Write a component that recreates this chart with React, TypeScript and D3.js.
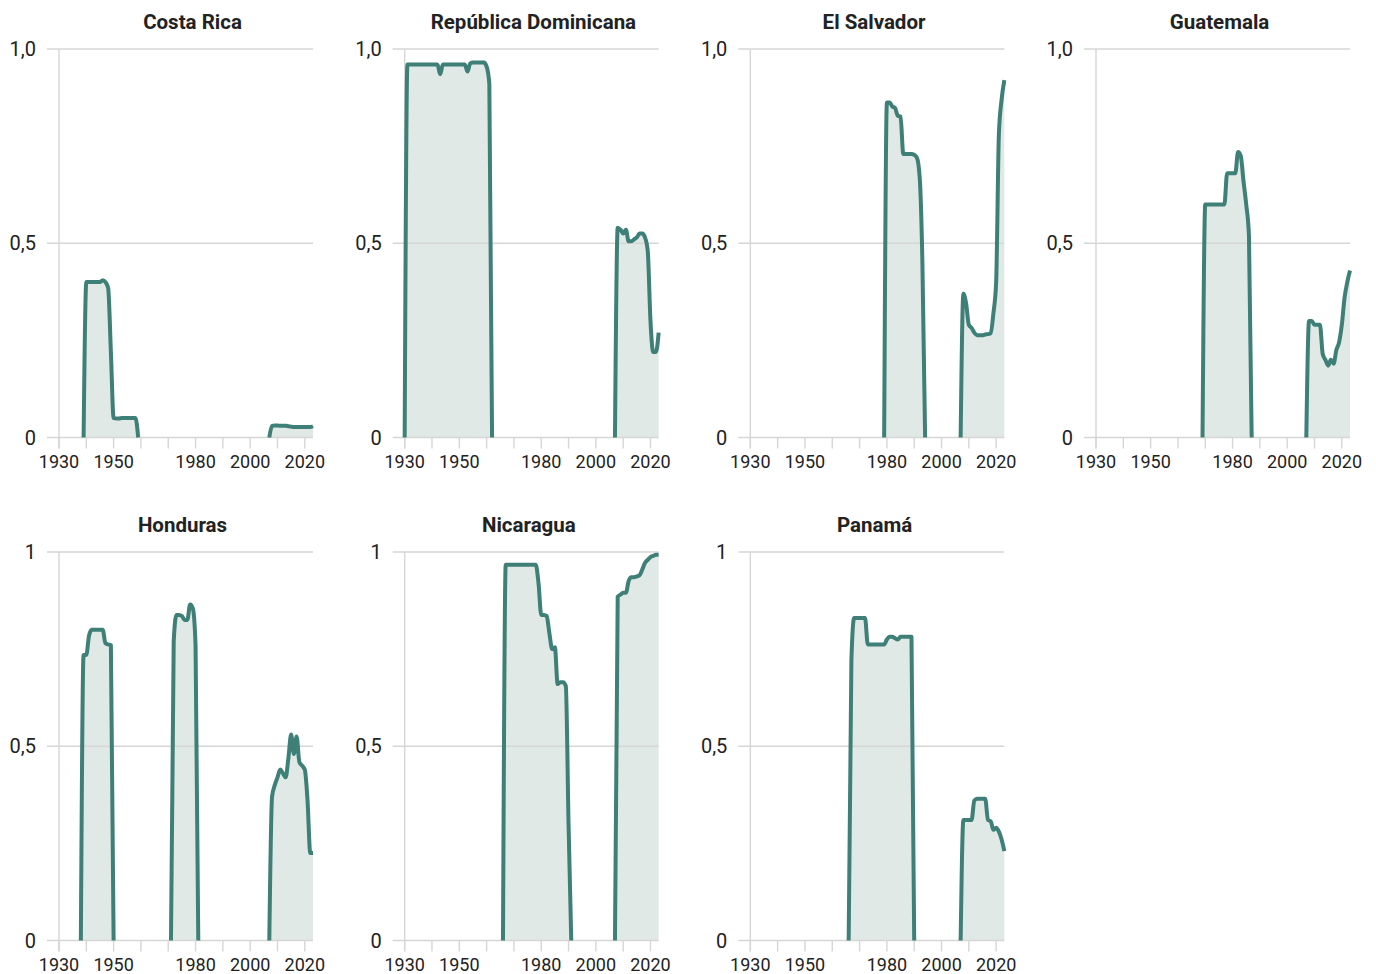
import React from 'react';
import * as d3 from 'd3';

type Pt = [number, number];

// ---- Data (year, index value), segments separated where the series is absent ----
const costaRica: Pt[][] = [
  [[1939, 0], [1940, 0.40], [1941, 0.40], [1942, 0.40], [1943, 0.40], [1944, 0.40], [1945, 0.40], [1946, 0.405], [1947, 0.40], [1948, 0.385], [1949, 0.22], [1950, 0.05], [1951, 0.049], [1952, 0.049], [1953, 0.05], [1954, 0.05], [1955, 0.05], [1956, 0.05], [1957, 0.05], [1958, 0.05], [1959, 0]],
  [[2007, 0], [2008, 0.03], [2009, 0.031], [2010, 0.031], [2011, 0.03], [2012, 0.03], [2013, 0.03], [2014, 0.029], [2015, 0.028], [2016, 0.027], [2017, 0.027], [2018, 0.027], [2019, 0.027], [2020, 0.027], [2021, 0.027], [2022, 0.027], [2023, 0.029]],
];

const republicaDominicana: Pt[][] = [
  [[1930, 0], [1931, 0.96], [1932, 0.96], [1933, 0.96], [1934, 0.96], [1935, 0.96], [1936, 0.96], [1937, 0.96], [1938, 0.96], [1939, 0.96], [1940, 0.96], [1941, 0.96], [1942, 0.96], [1943, 0.935], [1944, 0.96], [1945, 0.96], [1946, 0.96], [1947, 0.96], [1948, 0.96], [1949, 0.96], [1950, 0.96], [1951, 0.96], [1952, 0.96], [1953, 0.942], [1954, 0.963], [1955, 0.965], [1956, 0.965], [1957, 0.965], [1958, 0.965], [1959, 0.965], [1960, 0.955], [1961, 0.91], [1962, 0]],
  [[2007, 0], [2008, 0.54], [2009, 0.535], [2010, 0.525], [2011, 0.535], [2012, 0.505], [2013, 0.505], [2014, 0.51], [2015, 0.515], [2016, 0.525], [2017, 0.525], [2018, 0.515], [2019, 0.48], [2020, 0.30], [2021, 0.22], [2022, 0.22], [2023, 0.27]],
];

const elSalvador: Pt[][] = [
  [[1979, 0], [1980, 0.862], [1981, 0.862], [1982, 0.852], [1983, 0.848], [1984, 0.828], [1985, 0.826], [1986, 0.73], [1987, 0.73], [1988, 0.73], [1989, 0.73], [1990, 0.728], [1991, 0.72], [1992, 0.67], [1993, 0.45], [1994, 0]],
  [[2007, 0], [2008, 0.37], [2009, 0.345], [2010, 0.29], [2011, 0.282], [2012, 0.27], [2013, 0.263], [2014, 0.263], [2015, 0.263], [2016, 0.265], [2017, 0.266], [2018, 0.268], [2019, 0.32], [2020, 0.40], [2021, 0.78], [2022, 0.87], [2023, 0.92]],
];

const guatemala: Pt[][] = [
  [[1969, 0], [1970, 0.60], [1971, 0.60], [1972, 0.60], [1973, 0.60], [1974, 0.60], [1975, 0.60], [1976, 0.60], [1977, 0.60], [1978, 0.68], [1979, 0.68], [1980, 0.68], [1981, 0.68], [1982, 0.735], [1983, 0.725], [1984, 0.66], [1985, 0.60], [1986, 0.52], [1987, 0]],
  [[2007, 0], [2008, 0.30], [2009, 0.30], [2010, 0.29], [2011, 0.29], [2012, 0.29], [2013, 0.215], [2014, 0.20], [2015, 0.185], [2016, 0.20], [2017, 0.19], [2018, 0.225], [2019, 0.245], [2020, 0.29], [2021, 0.36], [2022, 0.40], [2023, 0.43]],
];

const honduras: Pt[][] = [
  [[1938, 0], [1939, 0.735], [1940, 0.735], [1941, 0.785], [1942, 0.80], [1943, 0.80], [1944, 0.80], [1945, 0.80], [1946, 0.80], [1947, 0.765], [1948, 0.762], [1949, 0.76], [1950, 0]],
  [[1971, 0], [1972, 0.77], [1973, 0.838], [1974, 0.838], [1975, 0.835], [1976, 0.825], [1977, 0.825], [1978, 0.865], [1979, 0.855], [1980, 0.76], [1981, 0]],
  [[2007, 0], [2008, 0.37], [2009, 0.40], [2010, 0.42], [2011, 0.44], [2012, 0.43], [2013, 0.42], [2014, 0.47], [2015, 0.53], [2016, 0.48], [2017, 0.525], [2018, 0.46], [2019, 0.45], [2020, 0.44], [2021, 0.36], [2022, 0.225], [2023, 0.225]],
];

const nicaragua: Pt[][] = [
  [[1966, 0], [1967, 0.967], [1968, 0.967], [1969, 0.967], [1970, 0.967], [1971, 0.967], [1972, 0.967], [1973, 0.967], [1974, 0.967], [1975, 0.967], [1976, 0.967], [1977, 0.967], [1978, 0.967], [1979, 0.92], [1980, 0.838], [1981, 0.838], [1982, 0.835], [1983, 0.79], [1984, 0.75], [1985, 0.755], [1986, 0.66], [1987, 0.665], [1988, 0.665], [1989, 0.655], [1990, 0.30], [1991, 0]],
  [[2007, 0], [2008, 0.885], [2009, 0.89], [2010, 0.895], [2011, 0.895], [2012, 0.925], [2013, 0.935], [2014, 0.935], [2015, 0.937], [2016, 0.94], [2017, 0.955], [2018, 0.972], [2019, 0.98], [2020, 0.987], [2021, 0.99], [2022, 0.993], [2023, 0.993]],
];

const panama: Pt[][] = [
  [[1966, 0], [1967, 0.72], [1968, 0.83], [1969, 0.83], [1970, 0.83], [1971, 0.83], [1972, 0.83], [1973, 0.762], [1974, 0.762], [1975, 0.762], [1976, 0.762], [1977, 0.762], [1978, 0.762], [1979, 0.762], [1980, 0.775], [1981, 0.782], [1982, 0.782], [1983, 0.778], [1984, 0.775], [1985, 0.782], [1986, 0.782], [1987, 0.782], [1988, 0.782], [1989, 0.782], [1990, 0]],
  [[2007, 0], [2008, 0.31], [2009, 0.31], [2010, 0.31], [2011, 0.31], [2012, 0.36], [2013, 0.365], [2014, 0.365], [2015, 0.365], [2016, 0.365], [2017, 0.31], [2018, 0.307], [2019, 0.285], [2020, 0.29], [2021, 0.28], [2022, 0.26], [2023, 0.23]],
];

const countryNames = ['Costa Rica', 'República Dominicana', 'El Salvador', 'Guatemala', 'Honduras', 'Nicaragua', 'Panamá'];
const countrySeries = [costaRica, republicaDominicana, elSalvador, guatemala, honduras, nicaragua, panama];

const xDomain: [number, number] = [1930, 2023];
const decadeTicks = [1930, 1940, 1950, 1960, 1970, 1980, 1990, 2000, 2010, 2020];
const labeledYears = [1930, 1950, 1980, 2000, 2020];
const yTickValues = [0, 0.5, 1];
const yTickLabelsTopRow = ['0', '0,5', '1,0'];
const yTickLabelsBottomRow = ['0', '0,5', '1'];

// ---- Layout / style ----
const W = 1376;
const H = 974;
const COLS = 4;
const PLOT_LEFT0 = 59;
const COL_STEP = 345.67;
const PLOT_W = 254;
const PLOT_TOP0 = 49;
const ROW_STEP = 503;
const PLOT_H = 388.5;
const TITLE_DX = [6.5, 1.7, -3.3, -3.5, -3.5, -2.8, -2.7];

const LINE_COLOR = '#3e7f77';
const FILL_COLOR = '#e1e9e7';
const GRID_COLOR = '#d6d6d6';
const TEXT_COLOR = '#222';
const FONT = 'Roboto, "Noto Sans", sans-serif';

function Panel({ index }: { index: number }) {
  const col = index % COLS;
  const row = Math.floor(index / COLS);
  const left = PLOT_LEFT0 + col * COL_STEP;
  const top = PLOT_TOP0 + row * ROW_STEP;
  const x = d3.scaleLinear().domain(xDomain).range([left, left + PLOT_W]);
  const y = d3.scaleLinear().domain([0, 1]).range([top + PLOT_H, top]);
  const base = y(0);
  const line = d3.line<Pt>().x((d) => x(d[0])).y((d) => y(d[1])).curve(d3.curveMonotoneX);
  const area = d3
    .area<Pt>()
    .x((d) => x(d[0]))
    .y0(base)
    .y1((d) => y(d[1]))
    .curve(d3.curveMonotoneX);
  const segs = countrySeries[index];
  const yLabels = row === 0 ? yTickLabelsTopRow : yTickLabelsBottomRow;
  const tickLen = 11;

  return (
    <g>
      <text
        x={left + PLOT_W / 2 + TITLE_DX[index]}
        y={top - 20}
        textAnchor="middle"
        fontFamily={FONT}
        fontWeight={700}
        fontSize={20.5}
        fill={TEXT_COLOR}
      >
        {countryNames[index]}
      </text>
      {segs.map((s, i) => (
        <path key={'a' + i} d={area(s) || ''} fill={FILL_COLOR} />
      ))}
      {yTickValues.map((v, i) => (
        <g key={'y' + i}>
          <line x1={left - 12} x2={left + PLOT_W} y1={y(v)} y2={y(v)} stroke={GRID_COLOR} strokeWidth={1.4} />
          <text
            x={left - 23}
            y={y(v)}
            dy="0.35em"
            textAnchor="end"
            fontFamily={FONT}
            fontSize={20}
            fill={TEXT_COLOR}
          >
            {yLabels[i]}
          </text>
        </g>
      ))}
      <line x1={x(1930)} x2={x(1930)} y1={y(1)} y2={base + tickLen} stroke={GRID_COLOR} strokeWidth={1.4} />
      {decadeTicks.map((t) => (
        <line key={'t' + t} x1={x(t)} x2={x(t)} y1={base} y2={base + tickLen} stroke={GRID_COLOR} strokeWidth={1.4} />
      ))}
      {labeledYears.map((t) => (
        <text
          key={'l' + t}
          x={x(t)}
          y={base + 30}
          textAnchor="middle"
          fontFamily={FONT}
          fontSize={18}
          fill={TEXT_COLOR}
        >
          {t}
        </text>
      ))}
      {segs.map((s, i) => (
        <path
          key={'l' + i}
          d={line(s) || ''}
          fill="none"
          stroke={LINE_COLOR}
          strokeWidth={4}
          strokeLinejoin="round"
          strokeLinecap="butt"
        />
      ))}
    </g>
  );
}

export default function App() {
  return (
    <svg
      width={W}
      height={H}
      viewBox={`0 0 ${W} ${H}`}
      style={{ position: 'absolute', left: 0, top: 0, display: 'block', background: '#fff' }}
    >
      <rect x={0} y={0} width={W} height={H} fill="#fff" />
      {countryNames.map((_, i) => (
        <Panel key={i} index={i} />
      ))}
    </svg>
  );
}
